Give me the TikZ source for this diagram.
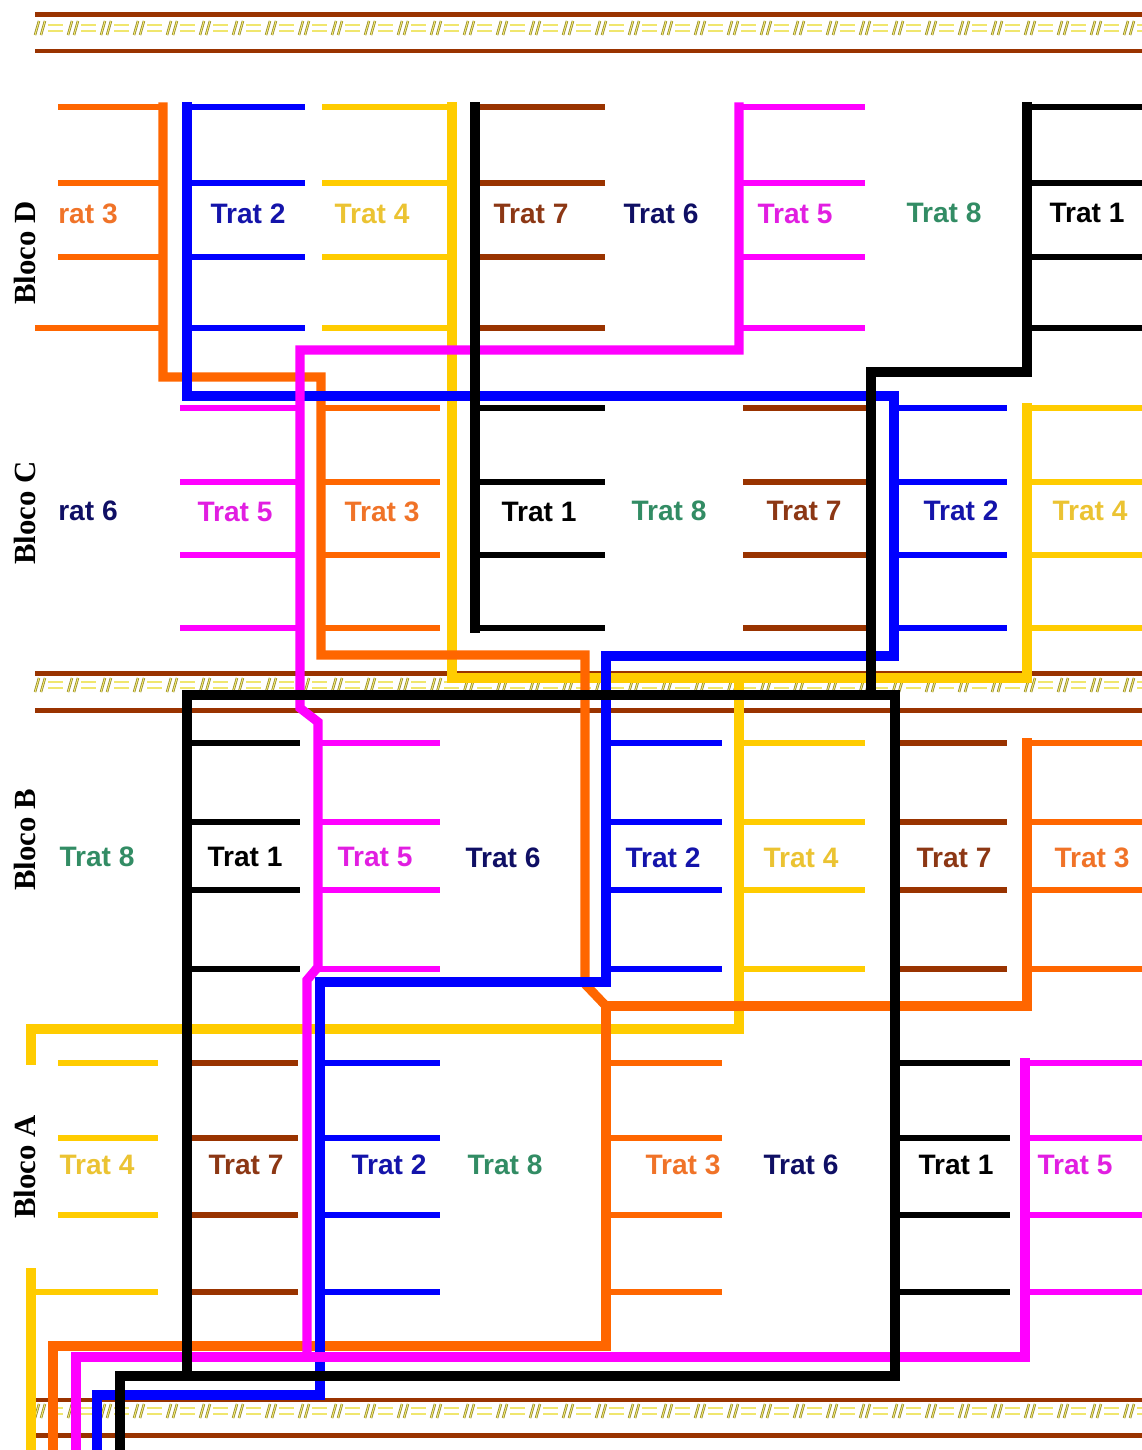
\documentclass[tikz,border=0pt]{standalone}
\usepackage{fontspec}
\setmainfont{Liberation Serif}
\setsansfont{Liberation Sans}
\usepackage{xcolor}
\usepackage{tikz}
\usetikzlibrary{positioning}
\definecolor{trat1color}{RGB}{0,0,0}
\definecolor{trat2color}{RGB}{0,0,255}
\definecolor{trat3color}{RGB}{255,102,0}
\definecolor{trat4color}{RGB}{255,204,0}
\definecolor{trat5color}{RGB}{255,0,255}
\definecolor{trat7color}{RGB}{153,51,0}
\definecolor{roadcolor}{RGB}{153,51,0}
\definecolor{hatchcolor}{RGB}{140,130,40}
\definecolor{hatchfill}{RGB}{240,230,110}
\definecolor{txt1}{RGB}{0,0,0}
\definecolor{txt2}{RGB}{20,20,170}
\definecolor{txt3}{RGB}{240,115,40}
\definecolor{txt4}{RGB}{235,195,50}
\definecolor{txt5}{RGB}{225,30,225}
\definecolor{txt6}{RGB}{15,15,100}
\definecolor{txt7}{RGB}{140,55,20}
\definecolor{txt8}{RGB}{50,140,100}

\begin{document}
\begin{tikzpicture}[
    x=0.02cm, y=-0.02cm,
    pipe/.style={line width=5.2pt, line join=miter, line cap=rect},
    lateral/.style={line width=3.1pt},
    roadline/.style={line width=2.8pt, roadcolor},
    hatch/.style={line width=0.4pt, draw=hatchcolor, double=hatchfill, double distance=0.6pt},
    lbl/.style={font=\sffamily\bfseries\fontsize{16}{16}\selectfont, inner sep=0pt},
    bloco/.style={font=\rmfamily\bfseries\fontsize{17.5}{17.5}\selectfont, inner sep=0pt, rotate=90}
]
\useasboundingbox (0,0) rectangle (1142,1450);
\clip (0,0) rectangle (1142,1450);

% Roads
\draw[roadline] (35,14.5) -- (1142,14.5);
\draw[roadline] (35,51) -- (1142,51);
\draw[roadline] (35,673.5) -- (1142,673.5);
\draw[roadline] (35,710.5) -- (1142,710.5);
\draw[roadline] (35,1400) -- (1142,1400);
\draw[roadline] (35,1435.5) -- (1142,1435.5);
\foreach \yc in {28,685,1411}{
  \foreach \i in {0,...,33}{
    \pgfmathsetmacro{\hx}{35+33*\i}
    \draw[hatch] (\hx,\yc+7) -- (\hx+4,\yc-7);
    \draw[hatch] (\hx+6,\yc+7) -- (\hx+10,\yc-7);
    \draw[hatch] (\hx+13,\yc-3) -- (\hx+28,\yc-3);
    \draw[hatch] (\hx+13,\yc+3) -- (\hx+28,\yc+3);
  }
}

% Laterals - Bloco D
\draw[lateral, trat3color] (58,107) -- (163,107) (58,183) -- (163,183) (58,257) -- (163,257) (35,328) -- (163,328);
\draw[lateral, trat2color] (187,107) -- (305,107) (187,183) -- (305,183) (187,257) -- (305,257) (187,328) -- (305,328);
\draw[lateral, trat4color] (322,107) -- (452,107) (322,183) -- (452,183) (322,257) -- (452,257) (322,328) -- (452,328);
\draw[lateral, trat7color] (475,107) -- (605,107) (475,183) -- (605,183) (475,257) -- (605,257) (475,328) -- (605,328);
\draw[lateral, trat5color] (739,107) -- (865,107) (739,183) -- (865,183) (739,257) -- (865,257) (739,328) -- (865,328);
\draw[lateral, trat1color] (1027,107) -- (1142,107) (1027,183) -- (1142,183) (1027,257) -- (1142,257) (1027,328) -- (1142,328);

% Laterals - Bloco C
\draw[lateral, trat5color] (180,408) -- (300,408) (180,482) -- (300,482) (180,555) -- (300,555) (180,628) -- (300,628);
\draw[lateral, trat3color] (322,408) -- (440,408) (322,482) -- (440,482) (322,555) -- (440,555) (322,628) -- (440,628);
\draw[lateral, trat1color] (475,408) -- (605,408) (475,482) -- (605,482) (475,555) -- (605,555) (475,628) -- (605,628);
\draw[lateral, trat7color] (743,408) -- (871,408) (743,482) -- (871,482) (743,555) -- (871,555) (743,628) -- (871,628);
\draw[lateral, trat2color] (894,408) -- (1007,408) (894,482) -- (1007,482) (894,555) -- (1007,555) (894,628) -- (1007,628);
\draw[lateral, trat4color] (1027,408) -- (1142,408) (1027,482) -- (1142,482) (1027,555) -- (1142,555) (1027,628) -- (1142,628);

% Laterals - Bloco B
\draw[lateral, trat1color] (187,743) -- (300,743) (187,822) -- (300,822) (187,890) -- (300,890) (187,969) -- (300,969);
\draw[lateral, trat5color] (318,743) -- (440,743) (318,822) -- (440,822) (318,890) -- (440,890) (318,969) -- (440,969);
\draw[lateral, trat2color] (606,743) -- (722,743) (606,822) -- (722,822) (606,890) -- (722,890) (606,969) -- (722,969);
\draw[lateral, trat4color] (739,743) -- (865,743) (739,822) -- (865,822) (739,890) -- (865,890) (739,969) -- (865,969);
\draw[lateral, trat7color] (895,743) -- (1007,743) (895,822) -- (1007,822) (895,890) -- (1007,890) (895,969) -- (1007,969);
\draw[lateral, trat3color] (1027,743) -- (1142,743) (1027,822) -- (1142,822) (1027,890) -- (1142,890) (1027,969) -- (1142,969);

% Laterals - Bloco A
\draw[lateral, trat4color] (58,1063) -- (158,1063) (58,1138) -- (158,1138) (58,1215) -- (158,1215) (30,1292) -- (158,1292);
\draw[lateral, trat7color] (187,1063) -- (298,1063) (187,1138) -- (298,1138) (187,1215) -- (298,1215) (187,1292) -- (298,1292);
\draw[lateral, trat2color] (320,1063) -- (440,1063) (320,1138) -- (440,1138) (320,1215) -- (440,1215) (320,1292) -- (440,1292);
\draw[lateral, trat3color] (606,1063) -- (722,1063) (606,1138) -- (722,1138) (606,1215) -- (722,1215) (606,1292) -- (722,1292);
\draw[lateral, trat1color] (895,1063) -- (1010,1063) (895,1138) -- (1010,1138) (895,1215) -- (1010,1215) (895,1292) -- (1010,1292);
\draw[lateral, trat5color] (1025,1063) -- (1142,1063) (1025,1138) -- (1142,1138) (1025,1215) -- (1142,1215) (1025,1292) -- (1142,1292);

% Pipe - Trat 4
\draw[pipe, trat4color] (452,107) -- (452,678) -- (1027,678) -- (1027,408);
\draw[pipe, trat4color] (739,678) -- (739,1029) -- (31,1029) -- (31,1060);
\draw[pipe, trat4color] (31,1273) -- (31,1460);

% Pipe - Trat 3
\draw[pipe, trat3color] (53,1460) -- (53,1346) -- (606,1346) -- (606,1006) -- (1027,1006) -- (1027,743);
\draw[pipe, trat3color] (606,1006) -- (585,984) -- (585,655) -- (321,655) -- (321,377) -- (163,377) -- (163,107);

% Pipe - Trat 2
\draw[pipe, trat2color] (97,1460) -- (97,1395) -- (320,1395) -- (320,982) -- (606,982) -- (606,656) -- (894,656) -- (894,396) -- (187,396) -- (187,107);

% Pipe - Trat 5
\draw[pipe, trat5color] (76,1460) -- (76,1357) -- (1025,1357) -- (1025,1063);
\draw[pipe, trat5color] (307,1357) -- (307,980) -- (318,967) -- (318,722) -- (300,708) -- (300,350) -- (739,350) -- (739,107);

% Pipe - Trat 1
\draw[pipe, trat1color] (120,1460) -- (120,1376) -- (895,1376) -- (895,695) -- (187,695) -- (187,1376);
\draw[pipe, trat1color] (871,695) -- (871,372) -- (1027,372) -- (1027,107);
\draw[pipe, trat1color] (475,107) -- (475,628);

% Block labels
\node[bloco] (blocoD) at (25,253) {Bloco D};
\node[bloco] (blocoC) at (25,513) {Bloco C};
\node[bloco] (blocoB) at (25,840) {Bloco B};
\node[bloco] (blocoA) at (25,1167) {Bloco A};

% Treatments - Bloco D
\node[lbl, text=txt3] (d3) at (88,214) {rat 3};
\node[lbl, text=txt2] (d2) at (248,214) {Trat 2};
\node[lbl, text=txt4] (d4) at (372,214) {Trat 4};
\node[lbl, text=txt7] (d7) at (531,214) {Trat 7};
\node[lbl, text=txt6] (d6) at (661,214) {Trat 6};
\node[lbl, text=txt5] (d5) at (795,214) {Trat 5};
\node[lbl, text=txt8] (d8) at (944,213) {Trat 8};
\node[lbl, text=txt1] (d1) at (1087,213) {Trat 1};

% Treatments - Bloco C
\node[lbl, text=txt6] (c6) at (88,511) {rat 6};
\node[lbl, text=txt5] (c5) at (235,512) {Trat 5};
\node[lbl, text=txt3] (c3) at (382,512) {Trat 3};
\node[lbl, text=txt1] (c1) at (539,512) {Trat 1};
\node[lbl, text=txt8] (c8) at (669,511) {Trat 8};
\node[lbl, text=txt7] (c7) at (804,511) {Trat 7};
\node[lbl, text=txt2] (c2) at (961,511) {Trat 2};
\node[lbl, text=txt4] (c4) at (1090,511) {Trat 4};

% Treatments - Bloco B
\node[lbl, text=txt8] (b8) at (97,857) {Trat 8};
\node[lbl, text=txt1] (b1) at (245,857) {Trat 1};
\node[lbl, text=txt5] (b5) at (375,857) {Trat 5};
\node[lbl, text=txt6] (b6) at (503,858) {Trat 6};
\node[lbl, text=txt2] (b2) at (663,858) {Trat 2};
\node[lbl, text=txt4] (b4) at (801,858) {Trat 4};
\node[lbl, text=txt7] (b7) at (954,858) {Trat 7};
\node[lbl, text=txt3] (b3) at (1092,858) {Trat 3};

% Treatments - Bloco A
\node[lbl, text=txt4] (a4) at (97,1165) {Trat 4};
\node[lbl, text=txt7] (a7) at (246,1165) {Trat 7};
\node[lbl, text=txt2] (a2) at (389,1165) {Trat 2};
\node[lbl, text=txt8] (a8) at (505,1165) {Trat 8};
\node[lbl, text=txt3] (a3) at (683,1165) {Trat 3};
\node[lbl, text=txt6] (a6) at (801,1165) {Trat 6};
\node[lbl, text=txt1] (a1) at (956,1165) {Trat 1};
\node[lbl, text=txt5] (a5) at (1075,1165) {Trat 5};

\end{tikzpicture}
\end{document}
